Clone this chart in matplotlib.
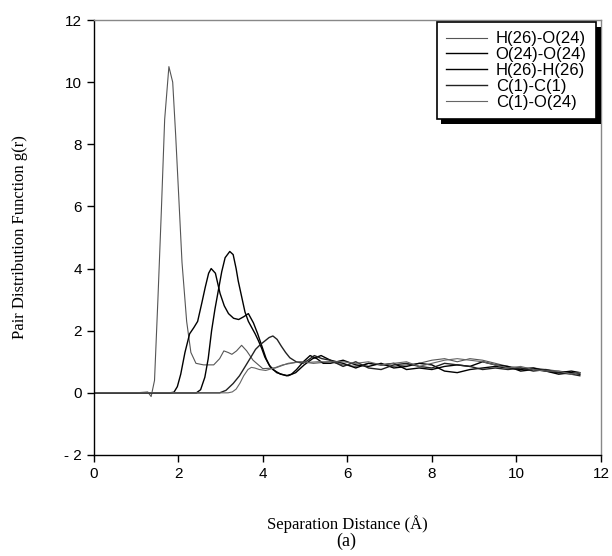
import numpy as np
import matplotlib
matplotlib.use('Agg')
import matplotlib.pyplot as plt
import matplotlib.patheffects as pe

# pair distribution functions
r_far = [5.6, 5.9, 6.2, 6.5, 6.8, 7.1, 7.4, 7.7, 8.0, 8.3, 8.6, 8.9, 9.2, 9.5,
         9.8, 10.1, 10.4, 10.7, 11.0, 11.3, 11.5]

r_ho = [0, 1.0, 1.2, 1.28, 1.36, 1.44, 1.52, 1.6, 1.68, 1.78, 1.87, 1.94, 2.01, 2.09,
        2.2, 2.3, 2.42, 2.6, 2.84, 2.98, 3.08, 3.18, 3.27, 3.38, 3.5, 3.62, 3.77,
        4.0, 4.3, 4.6, 4.9, 5.2]
g_ho = [0, 0, 0.02, 0.03, -0.12, 0.4, 3.0, 5.8, 8.8, 10.5, 10.0, 8.3, 6.4, 4.2,
        2.3, 1.3, 0.95, 0.9, 0.9, 1.1, 1.35, 1.3, 1.24, 1.35, 1.53, 1.35, 1.05,
        0.78, 0.8, 0.95, 1.0, 0.95]
g_ho_far = [1.0, 0.9, 0.85, 0.95, 0.9, 0.85, 0.9, 0.95, 1.05, 1.1, 1.0, 1.1, 1.05,
            0.95, 0.85, 0.8, 0.8, 0.75, 0.7, 0.65, 0.6]

r_oo = [0, 1.7, 1.8, 1.9, 1.98, 2.06, 2.16, 2.27, 2.37, 2.46, 2.56, 2.64, 2.72, 2.78,
        2.88, 2.99, 3.09, 3.19, 3.31, 3.43, 3.55, 3.66, 3.78, 3.88, 3.98, 4.08,
        4.17, 4.33, 4.56, 4.68, 4.8, 4.96, 5.12, 5.28, 5.43]
g_oo = [0, 0, 0, 0.02, 0.2, 0.6, 1.3, 1.9, 2.1, 2.3, 2.9, 3.4, 3.85, 4.0,
        3.85, 3.2, 2.8, 2.55, 2.4, 2.36, 2.45, 2.55, 2.25, 1.9, 1.5, 1.1,
        0.85, 0.65, 0.55, 0.6, 0.75, 1.0, 1.2, 1.1, 0.95]
g_oo_far = [0.95, 1.05, 0.9, 0.85, 0.95, 0.8, 0.85, 0.95, 0.9, 0.7, 0.65, 0.75, 0.8,
            0.85, 0.8, 0.75, 0.8, 0.7, 0.65, 0.7, 0.65]

r_hh = [0, 2.43, 2.53, 2.63, 2.71, 2.79, 2.87, 2.95, 3.03, 3.11, 3.22, 3.3, 3.37,
        3.42, 3.5, 3.58, 3.66, 3.74, 3.82, 3.89, 3.97, 4.05, 4.15, 4.24, 4.42,
        4.6, 4.78, 4.98, 5.18, 5.38]
g_hh = [0, 0, 0.1, 0.5, 1.1, 2.0, 2.7, 3.3, 3.9, 4.35, 4.55, 4.45, 4.0,
        3.6, 3.1, 2.6, 2.3, 2.1, 1.9, 1.7, 1.45, 1.15, 0.9, 0.75, 0.6,
        0.55, 0.65, 0.9, 1.1, 1.2]
g_hh_far = [1.05, 0.95, 0.8, 0.95, 0.9, 0.95, 0.75, 0.8, 0.75, 0.85, 0.9, 0.85, 1.0,
            0.9, 0.85, 0.7, 0.75, 0.7, 0.6, 0.65, 0.6]

r_cc = [0, 2.98, 3.13, 3.3, 3.45, 3.59, 3.72, 3.83, 3.94, 4.05, 4.15, 4.24, 4.34,
        4.44, 4.54, 4.64, 4.79, 4.95, 5.07, 5.22, 5.4]
g_cc = [0, 0, 0.08, 0.3, 0.55, 0.86, 1.15, 1.4, 1.55, 1.67, 1.78, 1.83, 1.72,
        1.5, 1.3, 1.13, 1.0, 0.95, 1.05, 1.2, 1.1]
g_cc_far = [1.05, 0.85, 1.0, 0.8, 0.75, 0.9, 0.95, 0.85, 0.8, 0.95, 0.9, 0.85, 0.75,
            0.8, 0.75, 0.8, 0.7, 0.75, 0.65, 0.6, 0.55]

r_co = [0, 3.18, 3.28, 3.37, 3.46, 3.55, 3.65, 3.73, 3.81, 3.92, 4.07, 4.27, 4.47,
        4.67, 4.87, 5.07, 5.3]
g_co = [0, 0, 0.03, 0.12, 0.31, 0.55, 0.75, 0.82, 0.8, 0.75, 0.72, 0.8, 0.9,
        0.95, 1.0, 0.98, 1.0]
g_co_far = [1.0, 1.0, 0.95, 1.0, 0.9, 0.95, 1.0, 0.85, 0.95, 1.05, 1.1, 1.05, 1.0,
            0.9, 0.8, 0.85, 0.75, 0.7, 0.7, 0.6, 0.65]

labels = ['H(26)-O(24)', 'O(24)-O(24)', 'H(26)-H(26)', 'C(1)-C(1)', 'C(1)-O(24)']
yticks = [-2, 0, 2, 4, 6, 8, 10, 12]
ytick_labels = ['- 2', '0', '2', '4', '6', '8', '10', '12']
xticks = [0, 2, 4, 6, 8, 10, 12]

series = [
    (r_ho, g_ho, g_ho_far, '#555555', 0.8),
    (r_oo, g_oo, g_oo_far, 'black', 1.0),
    (r_hh, g_hh, g_hh_far, 'black', 1.0),
    (r_cc, g_cc, g_cc_far, '#222222', 1.0),
    (r_co, g_co, g_co_far, '#666666', 0.8),
]

plt.rcParams['font.family'] = 'Liberation Sans'

fig = plt.figure(figsize=(6.12, 5.56), dpi=100)
ax = fig.add_axes([0.153, 0.1817, 0.829, 0.7823])

for (r, g, gfar, col, lw), lab in zip(series, labels):
    x = np.concatenate([r, r_far])
    y = np.concatenate([g, gfar])
    ax.plot(x, y, color=col, lw=lw, label=lab)

ax.set_xlim(0, 12)
ax.set_ylim(-2, 12)
ax.set_xticks(xticks)
ax.set_yticks(yticks)
ax.set_yticklabels(ytick_labels)
ax.tick_params(direction='out', length=5, width=1, labelsize=11, colors='black')
ax.tick_params(axis='x', pad=4)

for s in ['top', 'right']:
    ax.spines[s].set_color('#888888')
    ax.spines[s].set_linewidth(1.0)
for s in ['left', 'bottom']:
    ax.spines[s].set_linewidth(1.0)

ax.set_xlabel('Separation Distance (Å)', family='Liberation Serif', fontsize=12, labelpad=24)
ax.set_ylabel('Pair Distribution Function g(r)', family='Liberation Serif', fontsize=12, labelpad=26)
fig.text(0.566, 1 - 541 / 556, '(a)', family='Liberation Serif', fontsize=13,
         ha='center', va='center')

leg = ax.legend(loc='upper right', bbox_to_anchor=(0.99, 0.995), borderaxespad=0,
                fontsize=12, fancybox=False, framealpha=1, edgecolor='black',
                handlelength=2.5, handletextpad=0.5, labelspacing=0.05,
                borderpad=0.55)
frame = leg.get_frame()
frame.set_linewidth(1.2)
frame.set_path_effects([pe.SimplePatchShadow(offset=(3.5, -3.5), shadow_rgbFace='black', alpha=1),
                        pe.Normal()])

fig.savefig('out.png', dpi=100)
